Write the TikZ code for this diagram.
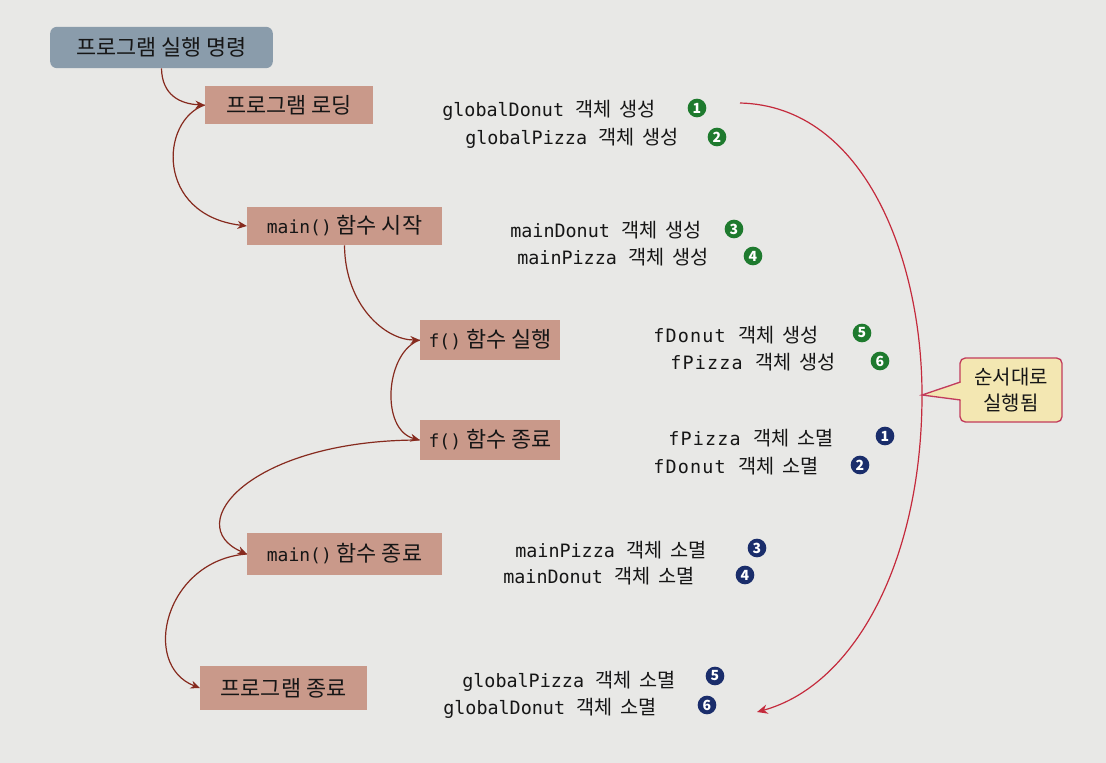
\documentclass[tikz,border=0pt]{standalone}
\usepackage{fontspec}
\setmainfont{Noto Sans CJK KR}
\newfontfamily\krfont[Scale=1.07]{Noto Sans CJK KR}
\setmonofont{DejaVu Sans Mono}
\newfontfamily\fmono[LetterSpace=6.6]{DejaVu Sans Mono}
\usetikzlibrary{arrows.meta}
\definecolor{paper}{HTML}{E8E8E6}
\definecolor{boxfill}{HTML}{C9998A}
\definecolor{cmdfill}{HTML}{8A9CAB}
\definecolor{flow}{HTML}{862A1E}
\definecolor{arc}{HTML}{C42A3C}
\definecolor{numgreen}{HTML}{1E7A2E}
\definecolor{numblue}{HTML}{1A2D6B}
\definecolor{callfill}{HTML}{F3E7B2}
\definecolor{callline}{HTML}{C23C5C}
\definecolor{ink}{HTML}{161616}
\newcommand\kw[2]{{\krfont #1}\hspace{6pt}{\krfont #2}}
\newcommand\bm[1]{{\fontsize{13.5}{16}\selectfont\ttfamily #1}}
\tikzset{
  stage/.style={fill=boxfill, text=ink, inner sep=0pt, font=\fontsize{16.4}{18}\selectfont},
  desc/.style={anchor=base west, text=ink, inner sep=0pt, font=\fontsize{13.8}{16}\selectfont\ttfamily},
  fdesc/.style={desc, font=\fontsize{13.8}{16}\selectfont\fmono},
  numg/.style={circle, fill=numgreen, text=white, inner sep=0pt, minimum size=14pt, font=\fontsize{10.5}{10.5}\selectfont\bfseries},
  numb/.style={numg, fill=numblue},
  flowarrow/.style={draw=flow, line width=0.9pt, -{Stealth[length=7pt,width=6pt]}},
}
\begin{document}
\begin{tikzpicture}[x=0.75pt,y=-0.75pt]
\fill[paper] (0,0) rectangle (1106,763);
\useasboundingbox (0,0) rectangle (1106,763);

% stage boxes
\node[stage, fill=cmdfill, rounded corners=5pt, minimum width=167pt, minimum height=31pt] (cmd) at (161.5,47.5) {프로그램 실행 명령};
\node[stage, minimum width=126pt, minimum height=28.5pt] (load) at (289,105) {프로그램 로딩};
\node[stage, minimum width=146pt, minimum height=28.5pt] (mstart) at (344.5,226) {\bm{main()} 함수 시작};
\node[stage, minimum width=105pt, minimum height=30pt] (frun) at (490,340) {\bm{f()} 함수 실행};
\node[stage, minimum width=105pt, minimum height=30pt] (fend) at (490,440) {\bm{f()} 함수 종료};
\node[stage, minimum width=146pt, minimum height=31.5pt] (mend) at (344.5,554) {\bm{main()} 함수 종료};
\node[stage, minimum width=125pt, minimum height=33pt] (pend) at (283.5,688) {프로그램 종료};

% flow arrows
\draw[flowarrow] (cmd.south) .. controls (162,95) and (180,104) .. (load.west);
\draw[flowarrow] (load.west) .. controls (160,120) and (155,215) .. (mstart.west);
\draw[flowarrow] (mstart.south) .. controls (345,305) and (385,340) .. (frun.west);
\draw[flowarrow] (frun.west) .. controls (385,352) and (380,430) .. (fend.west);
\draw[flowarrow] (fend.west) .. controls (250,440) and (180,525) .. (mend.west);
\draw[flowarrow] (mend.west) .. controls (165,560) and (140,665) .. (pend.west);

% descriptions
\node[desc] (t1) at (442,117) {globalDonut \kw{객체}{생성}};
\node[desc] (t2) at (465,145) {globalPizza \kw{객체}{생성}};
\node[desc] (t3) at (510,237) {mainDonut \kw{객체}{생성}};
\node[desc] (t4) at (517,264) {mainPizza \kw{객체}{생성}};
\node[fdesc] (t5) at (653,342) {fDonut \kw{객체}{생성}};
\node[fdesc] (t6) at (670,369) {fPizza \kw{객체}{생성}};
\node[fdesc] (t7) at (668,445) {fPizza \kw{객체}{소멸}};
\node[fdesc] (t8) at (653,473) {fDonut \kw{객체}{소멸}};
\node[desc] (t9) at (515,557) {mainPizza \kw{객체}{소멸}};
\node[desc] (t10) at (503,583) {mainDonut \kw{객체}{소멸}};
\node[desc] (t11) at (462,687) {globalPizza \kw{객체}{소멸}};
\node[desc] (t12) at (443,714) {globalDonut \kw{객체}{소멸}};

% numbers
\node[numg] (g1) at (697,108) {1};
\node[numg] (g2) at (717,137) {2};
\node[numg] (g3) at (734,229) {3};
\node[numg] (g4) at (753,256) {4};
\node[numg] (g5) at (862,333) {5};
\node[numg] (g6) at (880,361) {6};
\node[numb] (b1) at (885,436) {1};
\node[numb] (b2) at (860,465) {2};
\node[numb] (b3) at (757,548) {3};
\node[numb] (b4) at (745,575) {4};
\node[numb] (b5) at (715,676) {5};
\node[numb] (b6) at (707,705) {6};

% big order arc
\coordinate (arcS) at (740,103);
\coordinate (arcM) at (922,395);
\coordinate (arcE) at (757,712);
\draw[arc, line width=0.9pt, -{Stealth[length=8pt,width=7pt]}]
  (arcS) .. controls (865,106) and (922,260) .. (arcM)
  .. controls (922,560) and (855,685) .. (arcE);

% callout
\node[fill=callfill, draw=callline, line width=1pt, rounded corners=4pt, minimum width=76.5pt, minimum height=48pt, align=center, text=ink, inner sep=0pt, font=\fontsize{15}{19}\selectfont] (call) at (1011,390) {순서대로\\실행됨};
\fill[callfill] (962,382) -- (arcM) -- (962,400) -- cycle;
\draw[callline, line width=1pt] (960.5,382) -- (arcM) -- (960.5,400);
\end{tikzpicture}
\end{document}
